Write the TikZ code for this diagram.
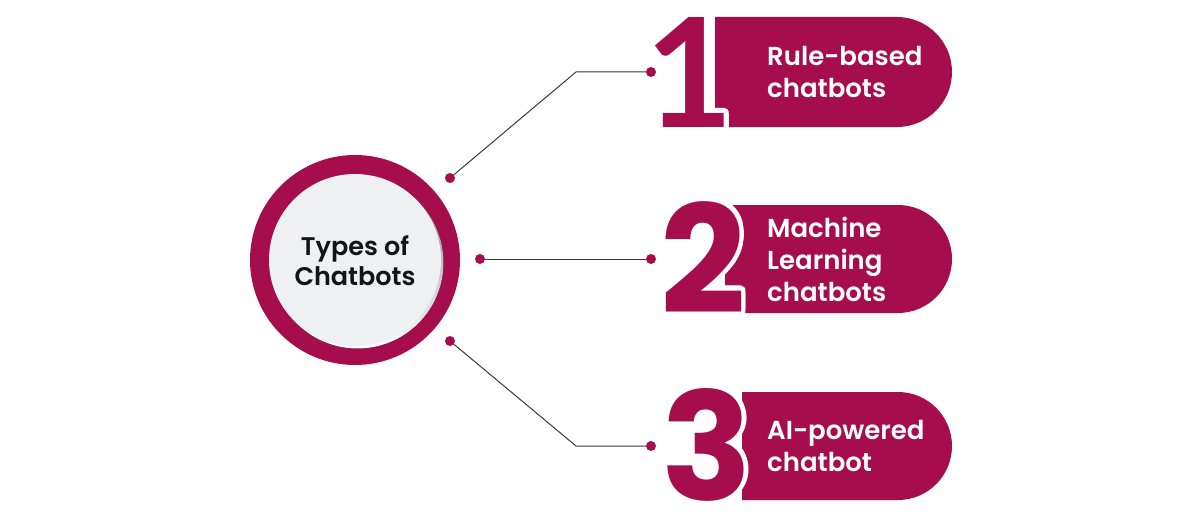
\documentclass[tikz,border=0pt]{standalone}
\usepackage{fontspec}
\setmainfont{Poppins}
\newfontfamily\semib{Poppins SemiBold}
\newfontfamily\latof{Lato}
\definecolor{crim}{HTML}{A60D4C}
\definecolor{inner}{HTML}{EEF0F2}
\definecolor{shade}{HTML}{C9C9CE}
\definecolor{lnk}{HTML}{3A3A3A}
\newcommand\bigdigit[4][]{%
  \foreach \a in {0,15,...,345}{\node[digit,#1,text=white] at ([shift={(\a:4.5pt)}]#3) {#4};}
  \node[digit,#1,text=crim] (#2) at (#3) {#4};%
}
\begin{document}
\begin{tikzpicture}[x=1pt,y=-1pt,
  pill/.style={fill=crim},
  digit/.style={font=\fontsize{150}{150}\selectfont\bfseries, inner sep=0pt, anchor=base},
  lato/.style={font=\fontsize{152}{152}\selectfont\latof\bfseries},
  label/.style={text=white, font=\fontsize{26}{32}\selectfont\semib, align=left, anchor=west, inner sep=0pt},
  hub/.style={text=black!92, font=\fontsize{25.5}{30}\selectfont\semib, align=center, inner sep=0pt},
  dot/.style={circle, fill=crim, inner sep=0pt, minimum size=10pt},
  link/.style={draw=lnk, line width=1pt}]
\useasboundingbox (0,0) rectangle (1200,519);
\fill[white] (0,0) rectangle (1200,519);
% hub circle
\fill[crim] (355,260) circle[radius=105pt];
\fill[shade] (357.5,262.5) circle[radius=86pt];
\fill[inner] (355,260) circle[radius=86pt];
\node[hub] (hub) at (355,261) {Types of\\Chatbots};
% pills
\fill[pill] (715,17) -- (897,17) arc[start angle=90,end angle=-90,radius=55pt] -- (715,127) -- cycle;
\fill[pill] (725,205) -- (898,205) arc[start angle=90,end angle=-90,radius=54pt] -- (725,313) -- cycle;
\fill[pill] (742,392) -- (898,392) arc[start angle=90,end angle=-90,radius=54pt] -- (742,500) -- cycle;
\bigdigit[lato]{n1}{690,127}{1}
\bigdigit{n2}{703,313}{2}
\bigdigit{n3}{707,500}{3}
\node[label] (t1) at (767,72) {Rule-based\\chatbots};
\node[label] (t2) at (767,259) {Machine\\Learning\\chatbots};
\node[label] (t3) at (767,446) {AI-powered\\chatbot};
% connectors
\node[dot] (d1) at (450,178) {};
\node[dot] (d2) at (480,259) {};
\node[dot] (d3) at (450,341) {};
\node[dot] (e1) at (651,72) {};
\node[dot] (e2) at (651,259) {};
\node[dot] (e3) at (651,446) {};
\coordinate (k1) at (576,72);
\coordinate (k3) at (576,446);
\draw[link] (d1) -- (k1) -- (e1);
\draw[link] (d2) -- (e2);
\draw[link] (d3) -- (k3) -- (e3);
\end{tikzpicture}
\end{document}
